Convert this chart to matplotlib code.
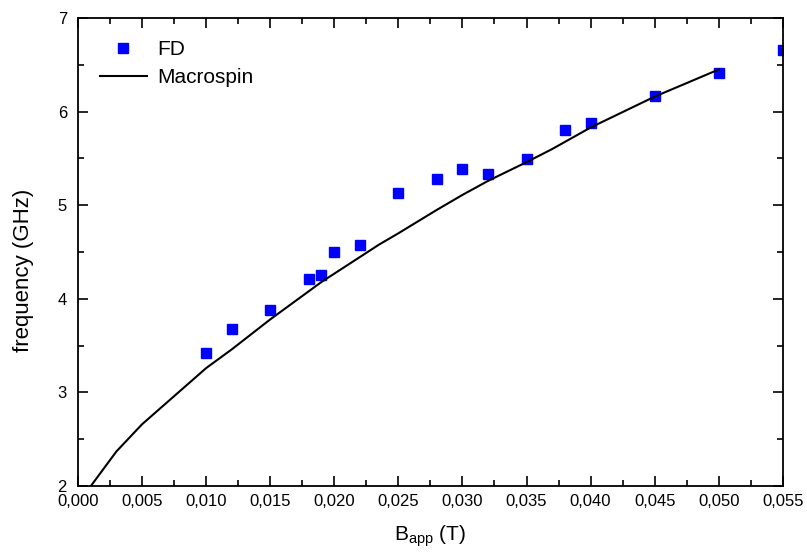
import numpy as np
import matplotlib
matplotlib.use("Agg")
import matplotlib.pyplot as plt
from matplotlib.ticker import MultipleLocator, FuncFormatter

plt.rcParams["font.family"] = ["Liberation Sans", "DejaVu Sans"]
plt.rcParams["mathtext.fontset"] = "custom"
plt.rcParams["mathtext.rm"] = "Liberation Sans"

# FD simulation points
fd_b = [0.010, 0.012, 0.015, 0.018, 0.019, 0.020, 0.022, 0.025, 0.028,
        0.030, 0.032, 0.035, 0.038, 0.040, 0.045, 0.050, 0.055]
fd_f = [3.42, 3.68, 3.88, 4.21, 4.25, 4.50, 4.575, 5.13, 5.28,
        5.39, 5.33, 5.49, 5.80, 5.88, 6.17, 6.415, 6.66]

# Macrospin curve
ms_b = [0.001, 0.003, 0.005, 0.007, 0.010, 0.012, 0.015, 0.019, 0.0235,
        0.025, 0.028, 0.030, 0.032, 0.035, 0.037, 0.040, 0.045, 0.050]
ms_f = [2.00, 2.37, 2.66, 2.90, 3.26, 3.46, 3.78, 4.18, 4.58,
        4.70, 4.95, 5.11, 5.26, 5.46, 5.60, 5.83, 6.16, 6.45]

fig = plt.figure(figsize=(8.07, 5.56), dpi=100)
ax = fig.add_axes([0.0967, 0.1259, 0.8733, 0.8417])

ax.plot(fd_b, fd_f, "s", color="#0000ff", markersize=6.5, label="FD")
ax.plot(ms_b, ms_f, "-", color="black", linewidth=1.5, label="Macrospin")

ax.set_xlim(0, 0.055)
ax.set_ylim(2, 7)
ax.xaxis.set_major_locator(MultipleLocator(0.005))
ax.xaxis.set_minor_locator(MultipleLocator(0.0025))
ax.yaxis.set_major_locator(MultipleLocator(1))
ax.yaxis.set_minor_locator(MultipleLocator(0.5))
ax.xaxis.set_major_formatter(FuncFormatter(lambda v, p: f"{v:.3f}".replace(".", ",")))
ax.tick_params(which="both", direction="in", top=True, right=True,
               labelsize=12, width=1.2)
ax.tick_params(which="major", length=7)
ax.tick_params(which="minor", length=4)
ax.tick_params(axis="x", pad=6)
ax.tick_params(axis="y", pad=8)
for s in ax.spines.values():
    s.set_linewidth(1.3)

ax.set_xlabel(r"B$_{\mathrm{app}}$ (T)", fontsize=15, labelpad=10)
ax.set_ylabel("frequency (GHz)", fontsize=16)
ax.yaxis.set_label_coords(-0.063, 0.4615)

ax.legend(loc="upper left", frameon=False, fontsize=15,
          bbox_to_anchor=(0.031, 0.953), borderaxespad=0, borderpad=0,
          handlelength=2.25, handletextpad=0.5, labelspacing=0.45)

fig.savefig("out.png", dpi=100)
